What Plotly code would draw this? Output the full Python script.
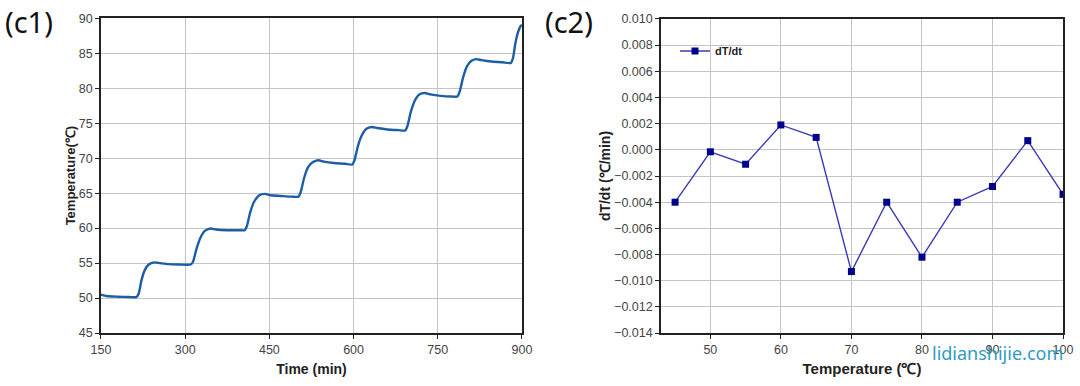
import plotly.graph_objects as go

# ---- (c1) temperature vs time ----
time_min = [150, 160, 180, 200, 213, 217, 222, 228, 235, 245, 255, 270, 290, 310,
            314, 320, 327, 335, 345, 355, 375, 395, 406,
            410, 416, 423, 432, 442, 452, 470, 490, 502,
            506, 512, 519, 527, 537, 547, 565, 585, 598,
            602, 608, 615, 623, 632, 642, 660, 680, 692,
            696, 702, 709, 717, 727, 737, 755, 775, 785,
            789, 795, 802, 810, 818, 828, 845, 865, 880,
            884, 888, 893, 898, 900]
temp_c = [50.5, 50.3, 50.2, 50.15, 50.15, 50.6, 52.5, 54.0, 54.8, 55.1, 55.0, 54.85, 54.8, 54.8,
          55.2, 57.0, 58.6, 59.6, 59.95, 59.8, 59.7, 59.7, 59.7,
          60.3, 62.3, 63.8, 64.7, 64.9, 64.7, 64.6, 64.5, 64.5,
          65.2, 67.2, 68.7, 69.4, 69.7, 69.5, 69.3, 69.2, 69.1,
          69.8, 71.8, 73.3, 74.2, 74.45, 74.3, 74.1, 74.0, 73.95,
          74.6, 76.6, 78.2, 79.1, 79.3, 79.1, 78.9, 78.8, 78.8,
          79.5, 81.5, 83.1, 83.9, 84.15, 84.0, 83.8, 83.7, 83.6,
          84.3, 86.3, 88.0, 88.9, 89.0]

# ---- (c2) dT/dt vs temperature ----
temp_points = [45, 50, 55, 60, 65, 70, 75, 80, 85, 90, 95, 100]
dTdt = [-0.0040, -0.00015, -0.0011, 0.0019, 0.00095, -0.0093,
        -0.0040, -0.0082, -0.0040, -0.0028, 0.0007, -0.0034]

x1_ticks = [150, 300, 450, 600, 750, 900]
y1_ticks = [45, 50, 55, 60, 65, 70, 75, 80, 85, 90]
x2_ticks = [50, 60, 70, 80, 90, 100]
y2_ticks = [-0.014, -0.012, -0.010, -0.008, -0.006, -0.004, -0.002,
            0.000, 0.002, 0.004, 0.006, 0.008, 0.010]

FONT = "Liberation Sans, Arial, sans-serif"
GRID = "#c4c4c4"

fig = go.Figure()
fig.add_trace(go.Scatter(x=time_min, y=temp_c, mode="lines",
                         line=dict(color="#1b5da6", width=2.4, shape="spline", smoothing=0.6),
                         xaxis="x", yaxis="y", showlegend=False))
fig.add_trace(go.Scatter(x=temp_points, y=dTdt, mode="lines+markers", name="<b>dT/dt</b>",
                         line=dict(color="#3a3ab8", width=1.4),
                         marker=dict(symbol="square", size=7, color="#00008b"),
                         xaxis="x2", yaxis="y2"))

axis_common = dict(showline=True, linecolor="#222222", linewidth=1.5, mirror=True,
                   ticks="outside", ticklen=4, tickcolor="#222222", automargin=False,
                   showgrid=True, gridcolor=GRID, gridwidth=1, zeroline=False,
                   tickfont=dict(family=FONT, size=12.5, color="#444444"))

fig.update_layout(
    width=1080, height=386,
    margin=dict(l=0, r=0, t=0, b=0, autoexpand=False),
    paper_bgcolor="white", plot_bgcolor="white",
    font=dict(family=FONT),
    xaxis=dict(domain=[0.0935, 0.4833], range=[150, 900], tickvals=x1_ticks,
               title=dict(text="<b>Time (min)</b>", font=dict(family=FONT, size=14, color="#222"), standoff=8),
               anchor="y", **axis_common),
    yaxis=dict(domain=[0.137, 0.953], range=[45, 90], tickvals=y1_ticks,
               title=dict(text="<b>Temperature(℃)</b>", font=dict(family=FONT, size=13, color="#222"), standoff=0),
               anchor="x", **axis_common),
    xaxis2=dict(domain=[0.612, 0.9843], range=[43, 100], tickvals=x2_ticks,
                title=dict(text="<b>Temperature (℃)</b>", font=dict(family=FONT, size=15, color="#222"), standoff=8),
                anchor="y2", **axis_common),
    yaxis2=dict(domain=[0.137, 0.951], range=[-0.014, 0.010], tickvals=y2_ticks, tickformat=".3f",
                title=dict(text="<b>dT/dt (℃/min)</b>", font=dict(family=FONT, size=14, color="#222"), standoff=0),
                anchor="x2", **axis_common),
    legend=dict(x=0.625, y=0.868, xanchor="left", yanchor="middle", bgcolor="rgba(0,0,0,0)",
                font=dict(family=FONT, size=11, color="#222"), itemwidth=30),
    showlegend=True,
)

fig.add_annotation(text="(c1)", x=0.003, y=1.0, xref="paper", yref="paper", xanchor="left", yanchor="top",
                   showarrow=False, font=dict(family="Noto Sans, sans-serif", size=29, color="#111"))
fig.add_annotation(text="(c2)", x=0.503, y=1.0, xref="paper", yref="paper", xanchor="left", yanchor="top",
                   showarrow=False, font=dict(family="Noto Sans, sans-serif", size=29, color="#111"))
fig.add_annotation(text="lidianshijie.com", x=0.924, y=0.085, xref="paper", yref="paper",
                   xanchor="center", yanchor="middle", showarrow=False,
                   font=dict(family="Noto Sans, sans-serif", size=18, color="#2f9bbf"))

fig.write_html("out.html", config={"displayModeBar": False},
               post_script="document.body.style.margin='0';")
